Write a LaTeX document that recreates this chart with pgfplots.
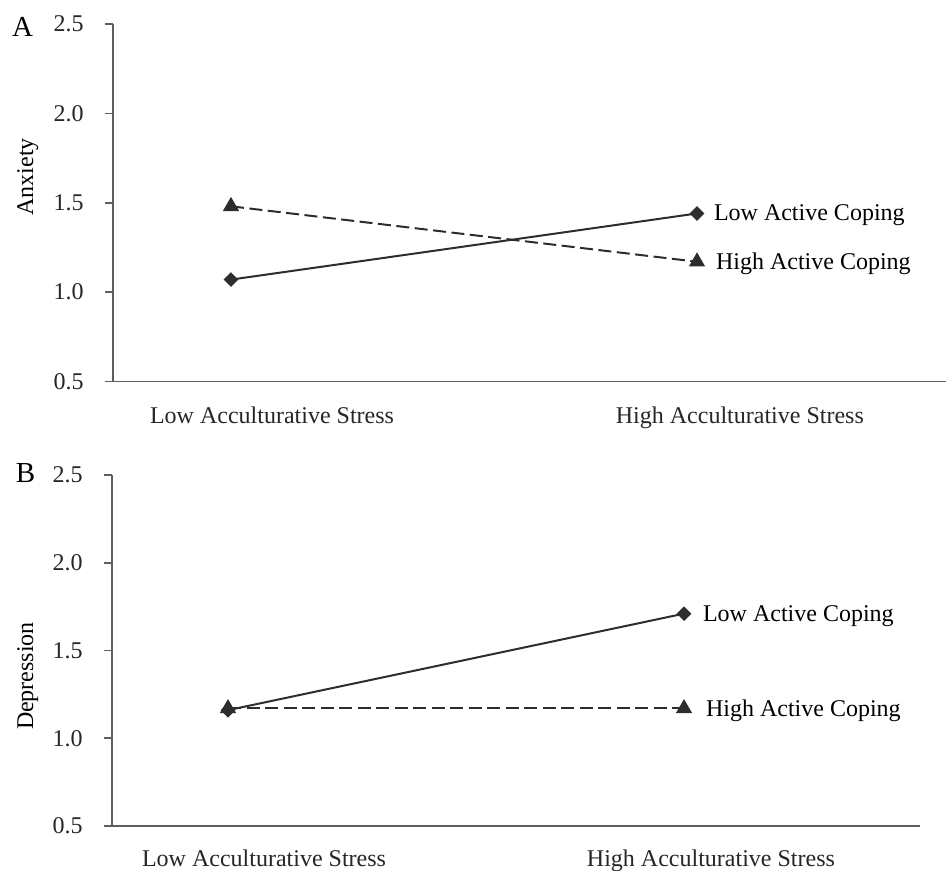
\documentclass[border=0pt]{standalone}
\usepackage{fontspec}
\setmainfont{Liberation Serif}
\usepackage{pgfplots}
\pgfplotsset{compat=1.18}
\definecolor{axgray}{RGB}{95,95,95}
\definecolor{ln}{RGB}{45,45,45}
\pgfplotsset{
  panel/.style={
    scale only axis, anchor=south west, clip=false,
    ymin=0.5, ymax=2.5,
    axis x line=bottom, axis y line=left,
    axis line style={-, draw=axgray, line width=0.8pt},
    ytick={0.5,1,1.5,2,2.5},
    yticklabel style={/pgf/number format/fixed, /pgf/number format/fixed zerofill, /pgf/number format/precision=1, inner sep=0pt, xshift=-10.5pt},
    /pgf/number format/assume math mode=true,
    ticklabel style={font=\fontsize{12}{14}\selectfont, text=black!85},
    tick align=outside, major tick length=4pt,
    y tick style={draw=axgray, line width=0.8pt},
    x tick style={draw=none},
    xticklabel style={inner sep=0pt, anchor=base, yshift=-17pt},
    every axis plot/.append style={line width=1pt, color=ln},
  },
  lowc/.style={solid, mark=square*, mark size=2.1pt, mark options={rotate=45, solid, fill=ln}},
  highc/.style={dash pattern=on 6.5pt off 2.75pt, mark=triangle*, mark size=3.7pt, mark options={solid, fill=ln}},
}
\begin{document}
\fontsize{12}{14}\selectfont
\begin{tikzpicture}
\useasboundingbox (0,0) rectangle (473pt,435.5pt);
% Panel A
\begin{axis}[panel, at={(56.5pt,244.75pt)}, width=416.5pt, height=178.75pt,
  xmin=-0.2532, xmax=1.5343,
  xtick={0.088,1.092}, xticklabels={Low Acculturative Stress, High Acculturative Stress}]
\addplot[highc] coordinates {(0,1.48) (1,1.17)}
  node[pos=1, anchor=base west, inner sep=0pt, xshift=9pt, yshift=-4pt, text=black] {High Active Coping};
\addplot[lowc] coordinates {(0,1.07) (1,1.44)}
  node[pos=1, anchor=base west, inner sep=0pt, xshift=8pt, yshift=-3.75pt, text=black] {Low Active Coping};
\end{axis}
% Panel B
\begin{axis}[panel, at={(56pt,22.5pt)}, width=404pt, height=175.5pt,
  xmin=-0.2544, xmax=1.5175,
  xticklabel style={yshift=1pt},
  xtick={0.079,1.059}, xticklabels={Low Acculturative Stress, High Acculturative Stress}]
\addplot[highc] coordinates {(0,1.17) (1,1.17)}
  node[pos=1, anchor=base west, inner sep=0pt, xshift=10.5pt, yshift=-4pt, text=black] {High Active Coping};
\addplot[lowc] coordinates {(0,1.16) (1,1.71)}
  node[pos=1, anchor=base west, inner sep=0pt, xshift=9pt, yshift=-3.75pt, text=black] {Low Active Coping};
\end{axis}
\node[anchor=base, inner sep=0pt, font=\fontsize{14.5}{16}\selectfont] at (11.25pt,417pt) {A};
\node[anchor=base, inner sep=0pt, font=\fontsize{14.5}{16}\selectfont] at (12.75pt,194pt) {B};
\node[rotate=90, anchor=base, inner sep=0pt] at (16.5pt,347pt) {Anxiety};
\node[rotate=90, anchor=base, inner sep=0pt] at (16.5pt,97.5pt) {Depression};
\end{tikzpicture}
\end{document}
